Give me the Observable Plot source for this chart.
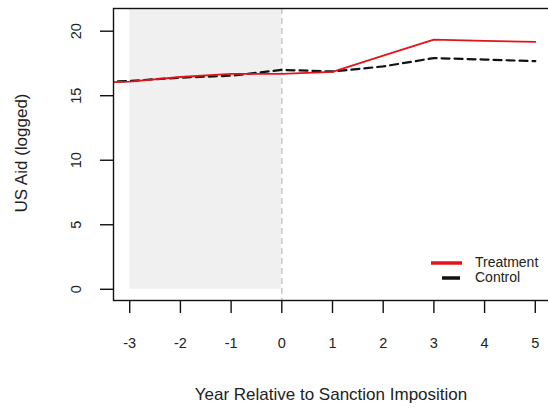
<!DOCTYPE html>
<html>
<head>
<meta charset="utf-8">
<script src="https://cdn.jsdelivr.net/npm/d3@7"></script>
<script src="https://cdn.jsdelivr.net/npm/@observablehq/plot@0.6"></script>
<style>
  html, body { margin: 0; padding: 0; background: #fff; }
  svg { overflow: hidden; }
</style>
</head>
<body>
<div id="chart"></div>
<script>
const years = [-4, -3, -2, -1, 0, 1, 2, 3, 4, 5];
const treatment = [15.95, 16.1, 16.45, 16.7, 16.7, 16.85, 18.1, 19.35, 19.25, 19.17];
const control = [16.0, 16.15, 16.4, 16.55, 17.0, 16.88, 17.27, 17.92, 17.8, 17.68];
const xTicks = [-3, -2, -1, 0, 1, 2, 3, 4, 5];
const yTicks = [0, 5, 10, 15, 20];
const shadeStart = -3, shadeEnd = 0, shadeBottom = 0;
const seriesNames = ["Treatment", "Control"];

const font = "'Liberation Sans', Arial, sans-serif";
const xDomain = [-3.32, 5.32];
const yDomain = [-0.87, 21.76];

const tData = years.map((x, i) => ({x, y: treatment[i]}));
const cData = years.map((x, i) => ({x, y: control[i]}));

const chart = Plot.plot({
  width: 548,
  height: 410,
  marginLeft: 113,
  marginRight: -3,
  marginTop: 8,
  marginBottom: 110,
  style: {fontFamily: font, background: "#fff", overflow: "hidden"},
  x: {domain: xDomain, range: [113, 551]},
  y: {domain: yDomain, range: [300, 8]},
  marks: [
    Plot.rect([{x1: shadeStart, x2: shadeEnd, y1: shadeBottom, y2: yDomain[1]}],
      {x1: "x1", x2: "x2", y1: "y1", y2: "y2", fill: "#f0f0f0"}),
    Plot.ruleX([shadeEnd], {stroke: "#c8c8c8", strokeWidth: 1.5, strokeDasharray: "6,4"}),
    Plot.line(cData, {x: "x", y: "y", stroke: "#111", strokeWidth: 2.2, strokeDasharray: "8,5", clip: true}),
    Plot.line(tData, {x: "x", y: "y", stroke: "#e3131b", strokeWidth: 1.8, clip: true}),
    Plot.frame({stroke: "#111", strokeWidth: 1.4}),
    Plot.axisX({ticks: xTicks, tickSize: 13, tickFormat: () => "", label: null, stroke: "#111", strokeWidth: 1.4}),
    Plot.text(xTicks, {x: d => d, text: d => String(d), frameAnchor: "bottom", dy: 43, lineAnchor: "middle", fontSize: 14.5, fill: "#222"}),
    Plot.axisY({ticks: yTicks, tickSize: 13, tickFormat: () => "", label: null, stroke: "#111", strokeWidth: 1.4}),
    Plot.text(yTicks, {y: d => d, text: d => String(d), frameAnchor: "left", dx: -37, rotate: -90, textAnchor: "middle", lineAnchor: "middle", fontSize: 14.5, fill: "#222"})
  ]
});

const svg = d3.select(chart);
// axis titles
svg.append("text").attr("x", 331).attr("y", 396).attr("text-anchor", "middle")
  .attr("dominant-baseline", "middle").attr("font-size", 17).attr("fill", "#222")
  .attr("font-family", font).text("Year Relative to Sanction Imposition");
svg.append("text").attr("transform", "translate(23,153) rotate(-90)").attr("text-anchor", "middle")
  .attr("dominant-baseline", "middle").attr("font-size", 17).attr("fill", "#222")
  .attr("font-family", font).text("US Aid (logged)");
// legend
const lg = svg.append("g").attr("font-family", font).attr("font-size", 14).attr("fill", "#222");
lg.append("line").attr("x1", 431).attr("x2", 462).attr("y1", 263).attr("y2", 263)
  .attr("stroke", "#e3131b").attr("stroke-width", 3.5);
lg.append("line").attr("x1", 442).attr("x2", 460).attr("y1", 278).attr("y2", 278)
  .attr("stroke", "#111").attr("stroke-width", 3.5);
lg.append("text").attr("x", 475).attr("y", 263).attr("text-anchor", "start")
  .attr("dominant-baseline", "middle").text(seriesNames[0]);
lg.append("text").attr("x", 475).attr("y", 278).attr("text-anchor", "start")
  .attr("dominant-baseline", "middle").text(seriesNames[1]);

document.getElementById("chart").appendChild(chart);
</script>
</body>
</html>
